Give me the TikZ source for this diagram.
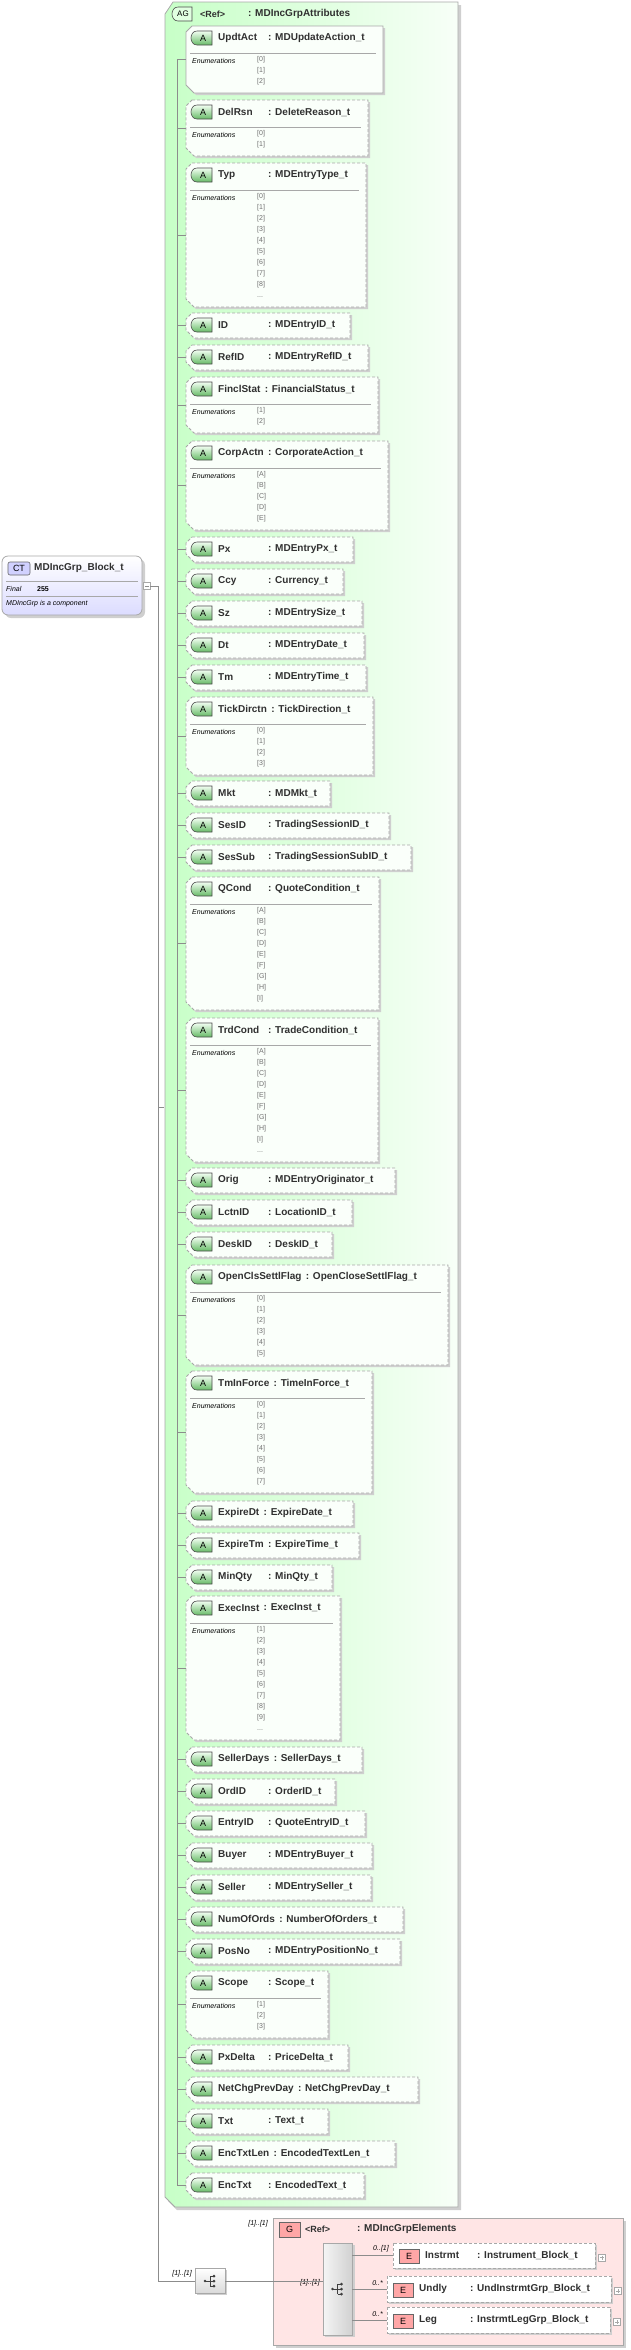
\documentclass[tikz,border=0pt]{standalone}
\usepackage{fontspec}
\setmainfont{Liberation Sans}
\definecolor{bordc}{HTML}{A8A8A8}
\definecolor{shadc}{HTML}{CFCFCF}
\definecolor{linec}{HTML}{8C8C8C}
\definecolor{txtc}{HTML}{303030}
\definecolor{enc}{HTML}{707070}
\definecolor{boxfill}{HTML}{FAFFFA}
\newcommand\nl{\\\relax}
\tikzset{
  conn/.style={draw=linec, line width=0.6pt},
  boxst/.style={draw=bordc, line width=0.8pt, fill=boxfill},
  dsh/.style={dash pattern=on 3pt off 2pt},
  shad/.style={fill=shadc},
  ttl/.style={font=\fontsize{10}{12}\selectfont\bfseries, text=txtc, inner sep=0pt, anchor=west},
  sml/.style={font=\fontsize{7}{11}\selectfont\itshape, text=black, inner sep=0pt},
  enm/.style={font=\fontsize{7}{11}\selectfont, text=enc, inner sep=0pt, align=left, anchor=north west},
  abadge/.style={draw=black!70, line width=0.6pt, top color=green!5, bottom color=green!55!black!60},
}
% #1 id, #2 title y, #3 name, #4 type, #5 right x, #6 border style, #7 number of enum lines, #8 enums, #9 1=long name
\newcommand\attrbox[9]{%
  \pgfmathsetmacro\tp{#2-12}%
  \ifnum#7=0 \pgfmathsetmacro\bt{#2+13}\else\pgfmathsetmacro\bt{#2+33+11*(#7-1)}\fi
  \pgfmathsetmacro\md{(\tp+\bt)/2}%
  \fill[shad] (194,\tp+2) -- (#5+2,\tp+2) -- (#5+2,\bt+2) -- (196,\bt+2) -- (188,\bt-6) -- (188,\tp+8) -- cycle;
  \path[boxst,#6] (192,\tp) -- (#5,\tp) -- (#5,\bt) -- (194,\bt) -- (186,\bt-8) -- (186,\tp+6) -- cycle;
  \draw[abadge] (197,#2-7) -- (212,#2-7) -- (212,#2+7) -- (197,#2+7) .. controls (189,#2+7) and (189,#2-7) .. (197,#2-7);
  \node[font=\fontsize{9}{10}\selectfont, inner sep=0pt] at (203,#2) {A};
  \node[ttl] (#1n) at (218,#2) {#3};
  \ifnum#9=1 \node[ttl] (#1t) at ([xshift=4pt]#1n.east) {: #4};\else\node[ttl] (#1t) at (268,#2) {: #4};\fi
  \ifnum#7>0
    \draw[bordc, line width=0.8pt] (190,#2+15) -- (#5-7,#2+15);
    \node[sml, anchor=west] at (192,#2+23) {Enumerations};
    \node[enm] at (257,#2+18) {#8};
  \fi
  \coordinate (#1) at (186,\md);
}
% id, left, top, bottom, right, name, colon x, type
\newcommand\elembox[8]{%
  \fill[shad] (#2+2,#3+2) rectangle (#5+2,#4+2);
  \path[draw=bordc, line width=0.8pt, dsh, fill=white] (#2,#3) rectangle (#5,#4);
  \coordinate (#1) at (#2,{(#3+#4)/2});
  \draw[draw=black!60, line width=0.6pt, fill=red!35] (#2+6,{(#3+#4)/2-6}) rectangle (#2+26,{(#3+#4)/2+8});
  \node[font=\fontsize{9}{10}\selectfont, inner sep=0pt] at (#2+16,{(#3+#4)/2+1}) {E};
  \node[ttl] at (#2+32,{(#3+#4)/2}) {#6};
  \node[ttl] at (#7,{(#3+#4)/2}) {: #8};
  \node[draw=bordc, fill=white, minimum size=7pt, inner sep=0pt] at (#5+7,{(#3+#4)/2+2}) {};
  \draw[bordc, line width=0.5pt] (#5+5,{(#3+#4)/2+2}) -- (#5+9,{(#3+#4)/2+2}) (#5+7,{(#3+#4)/2}) -- (#5+7,{(#3+#4)/2+4});
}
\begin{document}
\catcode`\_=12
\begin{tikzpicture}[x=1pt,y=-1pt]
\useasboundingbox (0,0) rectangle (630,2350);
% ===== AG group =====
\fill[shad] (175,5) -- (461,5) -- (461,2210) -- (177,2210) -- (168,2201) -- (168,18) -- cycle;
\path[draw=bordc, line width=0.8pt, left color=green!22, right color=green!3] (173,2) -- (458,2) -- (458,2207) -- (175,2207) -- (165,2197) -- (165,14) -- cycle;
\draw[draw=black!70, line width=0.6pt, fill=green!12] (178,7) -- (192,7) -- (192,21) -- (178,21) .. controls (170,21) and (170,7) .. (178,7);
\node[font=\fontsize{8}{9}\selectfont, inner sep=0pt] at (183,14) {AG};
\node[ttl, font=\fontsize{9}{11}\selectfont\bfseries] (agref) at (200,14) {<Ref>};
\node[ttl] (agname) at (248,14) {: MDIncGrpAttributes};
\node[inner sep=0pt, minimum width=1pt] (ag) at (165,1107) {};

\attrbox{a1}{38}{UpdtAct}{MDUpdateAction_t}{383}{solid}{3}{[0]\nl[1]\nl[2]}{0}
\attrbox{a2}{112}{DelRsn}{DeleteReason_t}{368}{dsh}{2}{[0]\nl[1]}{0}
\attrbox{a3}{175}{Typ}{MDEntryType_t}{366}{dsh}{10}{[0]\nl[1]\nl[2]\nl[3]\nl[4]\nl[5]\nl[6]\nl[7]\nl[8]\nl...}{0}
\attrbox{a4}{325}{ID}{MDEntryID_t}{350}{dsh}{0}{}{0}
\attrbox{a5}{357}{RefID}{MDEntryRefID_t}{368}{dsh}{0}{}{0}
\attrbox{a6}{389}{FinclStat}{FinancialStatus_t}{378}{dsh}{2}{[1]\nl[2]}{1}
\attrbox{a7}{453}{CorpActn}{CorporateAction_t}{388}{dsh}{5}{[A]\nl[B]\nl[C]\nl[D]\nl[E]}{1}
\attrbox{a8}{549}{Px}{MDEntryPx_t}{353}{dsh}{0}{}{0}
\attrbox{a9}{581}{Ccy}{Currency_t}{343}{dsh}{0}{}{0}
\attrbox{a10}{613}{Sz}{MDEntrySize_t}{362}{dsh}{0}{}{0}
\attrbox{a11}{645}{Dt}{MDEntryDate_t}{364}{dsh}{0}{}{0}
\attrbox{a12}{677}{Tm}{MDEntryTime_t}{366}{dsh}{0}{}{0}
\attrbox{a13}{709}{TickDirctn}{TickDirection_t}{373}{dsh}{4}{[0]\nl[1]\nl[2]\nl[3]}{1}
\attrbox{a14}{793}{Mkt}{MDMkt_t}{330}{dsh}{0}{}{0}
\attrbox{a15}{825}{SesID}{TradingSessionID_t}{389}{dsh}{0}{}{0}
\attrbox{a16}{857}{SesSub}{TradingSessionSubID_t}{411}{dsh}{0}{}{0}
\attrbox{a17}{889}{QCond}{QuoteCondition_t}{379}{dsh}{9}{[A]\nl[B]\nl[C]\nl[D]\nl[E]\nl[F]\nl[G]\nl[H]\nl[I]}{0}
\attrbox{a18}{1030}{TrdCond}{TradeCondition_t}{378}{dsh}{10}{[A]\nl[B]\nl[C]\nl[D]\nl[E]\nl[F]\nl[G]\nl[H]\nl[I]\nl...}{0}
\attrbox{a19}{1180}{Orig}{MDEntryOriginator_t}{395}{dsh}{0}{}{0}
\attrbox{a20}{1212}{LctnID}{LocationID_t}{352}{dsh}{0}{}{0}
\attrbox{a21}{1244}{DeskID}{DeskID_t}{332}{dsh}{0}{}{0}
\attrbox{a22}{1277}{OpenClsSettlFlag}{OpenCloseSettlFlag_t}{448}{dsh}{6}{[0]\nl[1]\nl[2]\nl[3]\nl[4]\nl[5]}{1}
\attrbox{a23}{1383}{TmInForce}{TimeInForce_t}{372}{dsh}{8}{[0]\nl[1]\nl[2]\nl[3]\nl[4]\nl[5]\nl[6]\nl[7]}{1}
\attrbox{a24}{1513}{ExpireDt}{ExpireDate_t}{353}{dsh}{0}{}{1}
\attrbox{a25}{1545}{ExpireTm}{ExpireTime_t}{359}{dsh}{0}{}{1}
\attrbox{a26}{1577}{MinQty}{MinQty_t}{332}{dsh}{0}{}{0}
\attrbox{a27}{1608}{ExecInst}{ExecInst_t}{340}{dsh}{10}{[1]\nl[2]\nl[3]\nl[4]\nl[5]\nl[6]\nl[7]\nl[8]\nl[9]\nl...}{1}
\attrbox{a28}{1759}{SellerDays}{SellerDays_t}{362}{dsh}{0}{}{1}
\attrbox{a29}{1791}{OrdID}{OrderID_t}{335}{dsh}{0}{}{0}
\attrbox{a30}{1823}{EntryID}{QuoteEntryID_t}{365}{dsh}{0}{}{0}
\attrbox{a31}{1855}{Buyer}{MDEntryBuyer_t}{372}{dsh}{0}{}{0}
\attrbox{a32}{1887}{Seller}{MDEntrySeller_t}{371}{dsh}{0}{}{0}
\attrbox{a33}{1919}{NumOfOrds}{NumberOfOrders_t}{403}{dsh}{0}{}{1}
\attrbox{a34}{1951}{PosNo}{MDEntryPositionNo_t}{400}{dsh}{0}{}{0}
\attrbox{a35}{1983}{Scope}{Scope_t}{328}{dsh}{3}{[1]\nl[2]\nl[3]}{0}
\attrbox{a36}{2057}{PxDelta}{PriceDelta_t}{348}{dsh}{0}{}{0}
\attrbox{a37}{2089}{NetChgPrevDay}{NetChgPrevDay_t}{418}{dsh}{0}{}{1}
\attrbox{a38}{2121}{Txt}{Text_t}{328}{dsh}{0}{}{0}
\attrbox{a39}{2153}{EncTxtLen}{EncodedTextLen_t}{395}{dsh}{0}{}{1}
\attrbox{a40}{2185}{EncTxt}{EncodedText_t}{364}{dsh}{0}{}{0}

% inner tree
\coordinate (tl) at (177,0);
\draw[conn] (tl |- a1) -- (tl |- a40);
\foreach \i in {1,...,40} {\draw[conn] (tl |- a\i) -- (a\i);}

% ===== CT box =====
\fill[shad, rounded corners=6pt] (5,559) rectangle (145,618);
\path[draw=bordc, line width=0.8pt, rounded corners=6pt, top color=white, bottom color=blue!14] (2,556) rectangle (142,615);
\draw[draw=black!60, line width=0.6pt, fill=blue!18, rounded corners=2pt] (8,562) rectangle (30,575);
\node[font=\fontsize{9}{10}\selectfont, inner sep=0pt] at (19,568.5) {CT};
\node[ttl] (ctn) at (34,568) {MDIncGrp_Block_t};
\draw[bordc, line width=0.8pt] (6,581) -- (138,581);
\draw[bordc, line width=0.8pt] (6,596) -- (138,596);
\node[sml, anchor=west] at (6,589) {Final};
\node[font=\fontsize{7}{8}\selectfont\bfseries, inner sep=0pt, anchor=west] at (37,589) {255};
\node[sml, anchor=west] at (6,604) {MDIncGrp is a component};
\node[draw=bordc, fill=white, minimum size=7pt, inner sep=0pt] (ctc) at (146.5,586) {};
\draw[linec, line width=0.5pt] (144.5,586) -- (148.5,586);

% ===== sequence (outer) =====
\coordinate (trunk) at (158,0);
\fill[shad] (197,2270) rectangle (227,2295);
\node[draw=bordc, line width=0.8pt, top color=white, bottom color=black!15, minimum width=30pt, minimum height=25pt, inner sep=0pt] (seq) at (210,2281) {};
\node[sml, anchor=east] at (192,2274) {[1]..[1]};
\draw[conn] (ctc.east) -| (trunk |- ag) -- (ag.west);
\draw[conn] (trunk |- ag) -- (trunk |- seq) -- (seq.west);

% ===== G group =====
\fill[shad] (276,2221) rectangle (626,2348);
\path[draw=bordc, line width=0.8pt, fill=red!10] (273,2218) rectangle (623,2345);
\draw[draw=black!60, line width=0.6pt, fill=red!35] (279,2222) rectangle (300,2237);
\node[font=\fontsize{9}{10}\selectfont, inner sep=0pt] at (289.5,2229.5) {G};
\node[ttl, font=\fontsize{9}{11}\selectfont\bfseries] at (305,2229) {<Ref>};
\node[ttl] at (357,2229) {: MDIncGrpElements};
\node[sml, anchor=east] at (268,2224) {[1]..[1]};
\fill[shad] (325,2245) rectangle (355,2337);
\node[draw=bordc, line width=0.8pt, left color=black!4, right color=black!18, minimum width=29pt, minimum height=92pt, inner sep=0pt] (iseq) at (337.5,2289) {};
\node[sml, anchor=east] at (320,2283) {[1]..[1]};
\draw[conn] (seq.east) -- (iseq.west |- seq);

% sequence icons
\foreach \c in {seq,iseq}{
  \begin{scope}[shift={(\c.center)}]
    \fill[black!75] (-5,0) circle (1.4);
    \draw[black!75, line width=0.7pt] (-5,0) -- (0,0) (0,-5) -- (0,5) (0,-5) -- (4,-5) (0,0) -- (4,0) (0,5) -- (4,5);
    \fill[black!75] (4,-5) circle (1.5) (4,0) circle (1.5) (4,5) circle (1.5);
  \end{scope}
}

% elements
\elembox{ins}{393}{2243}{2268}{595}{Instrmt}{477}{Instrument_Block_t}
\elembox{und}{387}{2276}{2302}{611}{Undly}{470}{UndInstrmtGrp_Block_t}
\elembox{leg}{387}{2307}{2333}{610}{Leg}{470}{InstrmtLegGrp_Block_t}
\draw[conn] (iseq.east |- ins) -- (ins);
\draw[conn] (iseq.east |- und) -- (und);
\draw[conn] (iseq.east |- leg) -- (leg);
\node[sml, anchor=east] at (389,2249) {0..[1]};
\node[sml, anchor=east] at (383,2283) {0..*};
\node[sml, anchor=east] at (383,2314) {0..*};
\end{tikzpicture}
\end{document}
